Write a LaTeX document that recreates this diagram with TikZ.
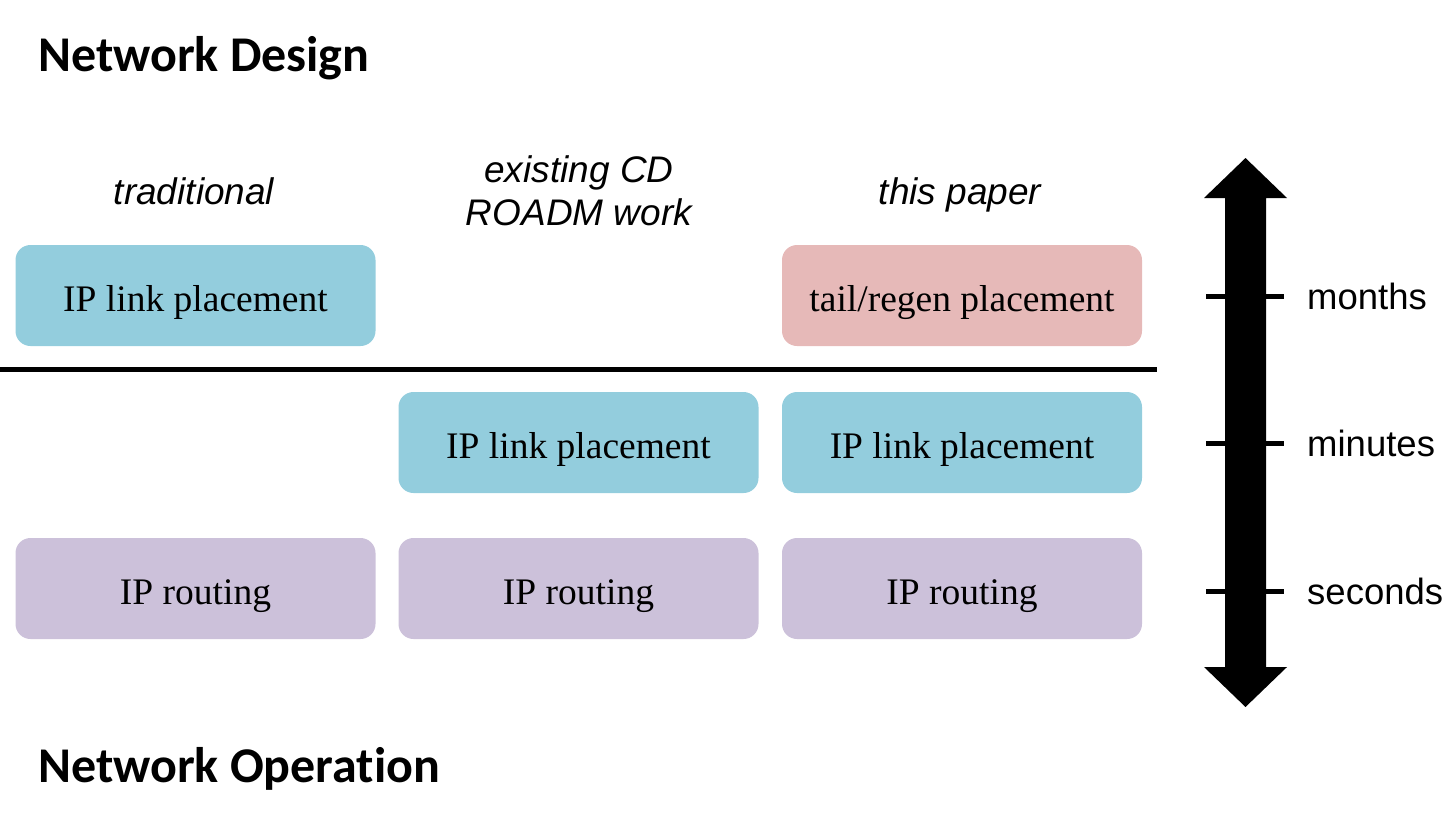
\documentclass[tikz,border=0pt]{standalone}
\usepackage{fontspec}
\newfontfamily\tnr{Liberation Serif}
\newfontfamily\arialf{Liberation Sans}
\newfontfamily\calib[Ligatures=NoCommon]{Carlito}
\definecolor{boxblue}{HTML}{93CDDD}
\definecolor{boxpink}{HTML}{E6B9B8}
\definecolor{boxpurple}{HTML}{CCC1DA}
\tikzset{
  tbox/.style={rectangle, rounded corners=15pt, minimum width=360pt, minimum height=101pt,
    inner sep=0pt, text height=31pt, text depth=0pt, align=center,
    font=\tnr\fontsize{37.5}{40}\selectfont},
  head/.style={anchor=base, inner sep=0pt, align=center,
    font=\arialf\itshape\fontsize{37}{43}\selectfont},
  title/.style={anchor=base west, inner sep=0pt, font=\calib\bfseries\fontsize{50}{55}\selectfont},
  scale label/.style={anchor=base west, inner sep=0pt, font=\arialf\fontsize{36.5}{40}\selectfont},
  tick/.style={line width=5pt}
}
\begin{document}
\begin{tikzpicture}[x=1pt,y=-1pt]
\useasboundingbox (0,0) rectangle (1453,812);
% titles
\node[title] (design) at (38,71) {Network Design};
\node[title] (operation) at (38,782) {Network Operation};
% column headings
\node[head] (h1) at (194,204) {traditional};
\node[head] (h2a) at (579,182) {existing CD};
\node[head] (h2b) at (579,225) {ROADM work};
\node[head] (h3) at (960,204) {this paper};
% boxes
\node[tbox, fill=boxblue] (b11) at (195.5,295.5) {IP link placement};
\node[tbox, fill=boxpink] (b13) at (962,295.5) {tail/regen placement};
\node[tbox, fill=boxblue] (b22) at (578.5,442.5) {IP link placement};
\node[tbox, fill=boxblue] (b23) at (962,442.5) {IP link placement};
\node[tbox, fill=boxpurple] (b31) at (195.5,588.5) {IP routing};
\node[tbox, fill=boxpurple] (b32) at (578.5,588.5) {IP routing};
\node[tbox, fill=boxpurple] (b33) at (962,588.5) {IP routing};
% separator
\coordinate (sepL) at (0,369);
\coordinate (sepR) at (1157,369);
\draw[line width=5pt] (sepL) -- (sepR);
% double arrow
\fill[black] (1245.5,158) -- (1287,198) -- (1266,198) -- (1266,667) -- (1287,667)
  -- (1245.5,707) -- (1204,667) -- (1225,667) -- (1225,198) -- (1204,198) -- cycle;
% ticks
\coordinate (t1a) at (1206,296); \coordinate (t1b) at (1284,296);
\coordinate (t2a) at (1206,443); \coordinate (t2b) at (1284,443);
\coordinate (t3a) at (1206,591); \coordinate (t3b) at (1284,591);
\draw[tick] (t1a) -- (t1b);
\draw[tick] (t2a) -- (t2b);
\draw[tick] (t3a) -- (t3b);
\node[scale label] (months) at (1307,309) {months};
\node[scale label] (minutes) at (1307,456) {minutes};
\node[scale label] (seconds) at (1307,604) {seconds};
\end{tikzpicture}
\end{document}
